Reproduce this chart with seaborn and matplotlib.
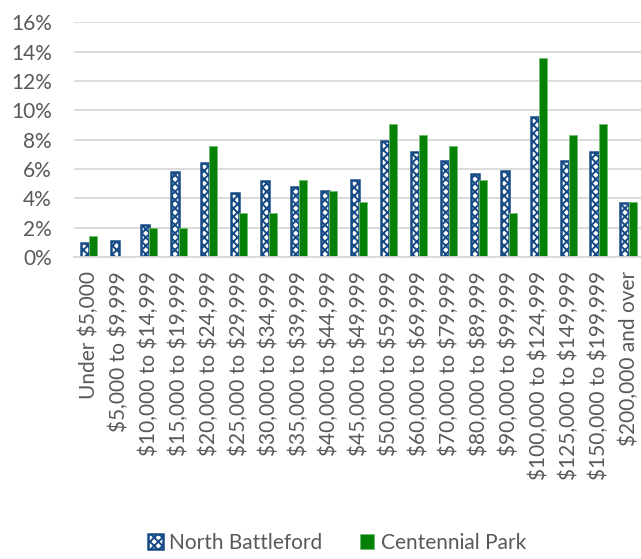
import pandas as pd
import numpy as np
import matplotlib
matplotlib.use("Agg")
import matplotlib.pyplot as plt
import seaborn as sns
from matplotlib.ticker import PercentFormatter

# ============================================================
# DATA
# ============================================================

categories = [
    "Under $5,000", "$5,000 to $9,999", "$10,000 to $14,999",
    "$15,000 to $19,999", "$20,000 to $24,999", "$25,000 to $29,999",
    "$30,000 to $34,999", "$35,000 to $39,999", "$40,000 to $44,999",
    "$45,000 to $49,999", "$50,000 to $59,999", "$60,000 to $69,999",
    "$70,000 to $79,999", "$80,000 to $89,999", "$90,000 to $99,999",
    "$100,000 to $124,999", "$125,000 to $149,999", "$150,000 to $199,999",
    "$200,000 and over",
]

north_battleford = [0.95, 1.13, 2.22, 5.81, 6.40, 4.38, 5.22, 4.79, 4.54,
                    5.24, 7.92, 7.15, 6.58, 5.65, 5.90, 9.55, 6.58, 7.15, 3.67]

centennial_park = [1.47, 0.0, 1.97, 1.97, 7.55, 3.00, 3.00, 5.28, 4.52,
                   3.77, 9.07, 8.30, 7.55, 5.28, 3.00, 13.60, 8.30, 9.07, 3.77]

series_names = ["North Battleford", "Centennial Park"]

df = pd.DataFrame({
    "income": categories * 2,
    "share": north_battleford + centennial_park,
    "area": [series_names[0]] * len(categories) + [series_names[1]] * len(categories),
})

# ============================================================
# STYLE
# ============================================================

sns.set_style("white")
plt.rcParams["font.family"] = ["Lato", "DejaVu Sans"]
plt.rcParams["text.parse_math"] = False
plt.rcParams["hatch.linewidth"] = 1.4

NAVY = "#164a85"
GREEN = "#078007"
TEXT = "#595959"
GRID = "#d9d9d9"

fig = plt.figure(figsize=(6.41, 5.59), dpi=100)
ax = fig.add_axes([0.1155, 0.540, 0.889, 0.420])

sns.barplot(
    data=df, x="income", y="share", hue="area",
    order=categories, hue_order=series_names,
    palette=[NAVY, GREEN], width=0.56, saturation=1,
    legend=False, ax=ax,
)

# checkered look for North Battleford, light edge for Centennial Park
for bar in ax.containers[0]:
    bar.set_facecolor("white")
    bar.set_edgecolor(NAVY)
    bar.set_hatch("xxxx")
    bar.set_linewidth(1.8)

for bar in ax.containers[1]:
    bar.set_facecolor(GREEN)
    bar.set_edgecolor("#6fbf6f")
    bar.set_linewidth(0.6)

# ============================================================
# AXES
# ============================================================

ax.set_ylim(0, 16)
ax.set_yticks(np.arange(0, 17, 2))
ax.yaxis.set_major_formatter(PercentFormatter(decimals=0))
ax.set_xlim(-0.5, len(categories) - 0.5)

ax.grid(axis="y", color=GRID, linewidth=1.3)
ax.set_axisbelow(True)
for s in ["top", "right", "left"]:
    ax.spines[s].set_visible(False)
ax.spines["bottom"].set_color(GRID)
ax.spines["bottom"].set_linewidth(1.3)

ax.tick_params(axis="both", length=0, colors=TEXT, labelsize=15)
ax.tick_params(axis="y", pad=16)
ax.tick_params(axis="x", pad=10)
plt.setp(ax.get_xticklabels(), rotation=90)
ax.set_xlabel("")
ax.set_ylabel("")

# ============================================================
# LEGEND
# ============================================================

leg = fig.legend(
    handles=[ax.containers[0], ax.containers[1]],
    labels=series_names,
    loc="center", bbox_to_anchor=(0.526, 0.029),
    ncol=2, frameon=False, fontsize=15,
    handlelength=0.7, handleheight=0.7, handletextpad=0.3,
    columnspacing=1.8, labelcolor=TEXT,
)

fig.savefig("out.png", dpi=100)
